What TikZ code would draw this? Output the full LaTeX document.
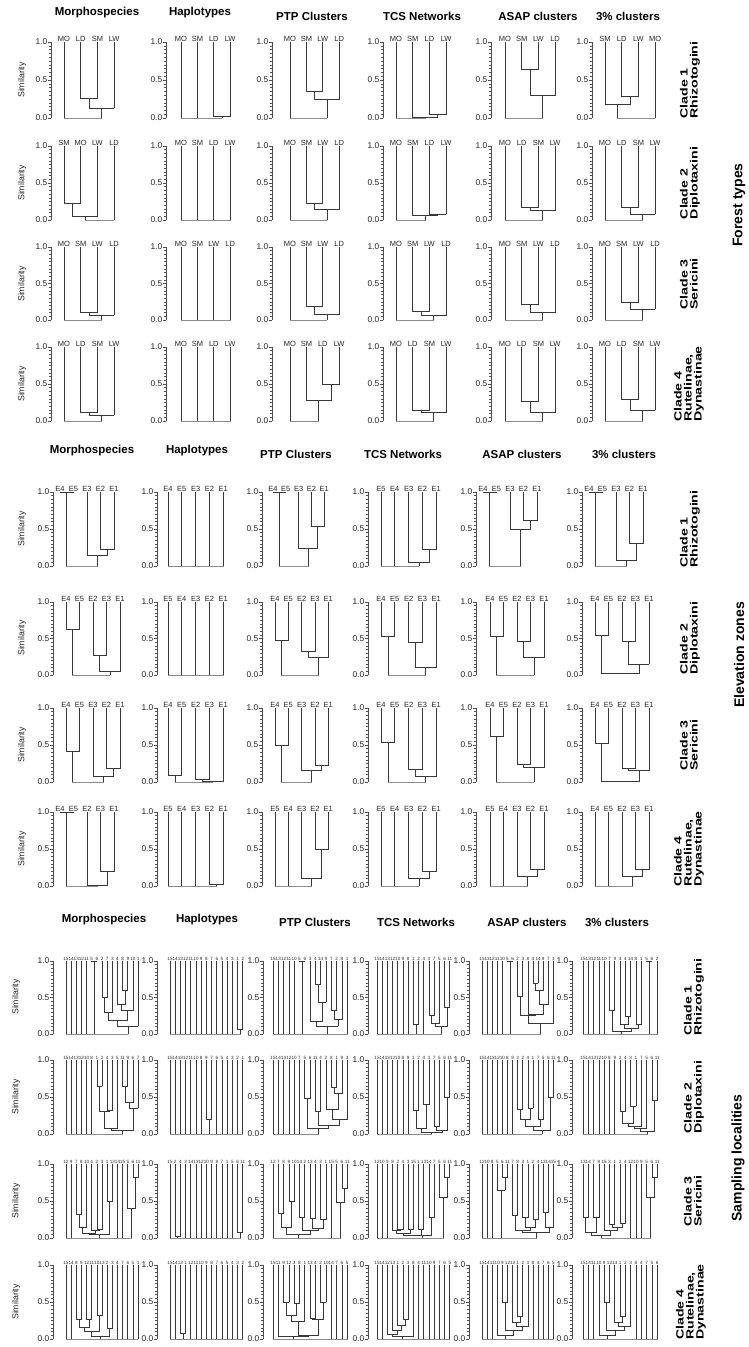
\documentclass[tikz,border=0pt]{standalone}
\usepackage{fontspec}
\usepackage{graphicx}
\setmainfont{Liberation Sans}
% join two clusters #1,#2 at height #3 -> new cluster #4
\newcommand\J[4]{%
  \edef\xa{\csname DX#1\endcsname}\edef\ha{\csname DH#1\endcsname}%
  \edef\xb{\csname DX#2\endcsname}\edef\hb{\csname DH#2\endcsname}%
  \ifdim #3pt=0pt \tikzset{hz/.style={lnk0}}\else\tikzset{hz/.style={lnk}}\fi
  \draw[hz] (\xa,#3) -- (\xb,#3);
  \draw[lnk] (\xa,\ha) -- (\xa,#3) (\xb,\hb) -- (\xb,#3);
  \pgfmathsetmacro\tmp{(\xa+\xb)/2}%
  \expandafter\xdef\csname DX#4\endcsname{\tmp}%
  \expandafter\xdef\csname DH#4\endcsname{#3}}
% chain of joins at one height
\newcommand\R[2]{\gdef\prv{}\foreach \n in {#2}{\ifx\prv\empty\xdef\prv{\n}\else\J{\prv}{\n}{#1}{z\n}\xdef\prv{z\n}\fi}}
% panel: axis x, y(1.0), y(0.0), leaf offset, leaf spacing, labels, tree
\newcommand\pnl[7]{%
  \pgfmathsetmacro\hh{#3-#2}%
  \begin{scope}[shift={(#1,#3)},y={(0pt,\hh pt)}]
    \draw[ax] (0,0) -- (0,1);
    \foreach \t in {0,1,...,20} \draw[ax] (0,\t/20) -- (-1.8,\t/20);
    \foreach \t/\s in {0/0.0,0.5/0.5,1/1.0} {\draw[ax] (0,\t) -- (-3,\t); \node[albl] at (-3.6,\t) {\s};}
    \foreach \l [count=\i] in {#6} {%
      \pgfmathsetmacro\xx{#4+(\i-1)*#5}%
      \expandafter\xdef\csname DX\i\endcsname{\xx}%
      \expandafter\xdef\csname DH\i\endcsname{1}%
      \node[lbl] at (\xx,1) {\l};}
    #7
  \end{scope}}
\newcommand\rl[3]{\node[rotate=90] at (#1,#2) {\scalebox{1.35}[1]{\bfseries\fontsize{10.5}{10}\selectfont\def\arraystretch{0.82}\begin{tabular}{@{}l@{}}#3\end{tabular}}};}
\begin{document}
\begin{tikzpicture}[x=1pt,y=-1pt,
 lnk/.style={draw=black!78,line width=0.75pt,line cap=rect},
 lnk0/.style={draw=black!45,line width=0.75pt,line cap=rect},
 ax/.style={draw=black!70,line width=0.5pt},
 albl/.style={anchor=east,inner sep=0pt,font=\fontsize{8.4}{8.4}\selectfont,text=black!85},
 lbl/.style={anchor=south,inner sep=0.7pt,font=\fontsize{7.5}{7.5}\selectfont,text=black!85},
 hdr/.style={font=\bfseries\fontsize{11.5}{12}\selectfont},
 sim/.style={rotate=90,font=\fontsize{8.8}{9}\selectfont,text=black!85},
 secl/.style={rotate=90,font=\bfseries\fontsize{14}{14}\selectfont}]
\fill[white] (0,0) rectangle (749,1347);
\useasboundingbox (0,0) rectangle (749,1347);

% ================= SECTION 1: Forest types =================
\node[hdr] (h11) at (97,13) {Morphospecies};
\node[hdr] (h12) at (200,13) {Haplotypes};
\node[hdr] (h13) at (312,16) {PTP Clusters};
\node[hdr] (h14) at (422,16) {TCS Networks};
\node[hdr] (h15) at (538,16) {ASAP clusters};
\node[hdr] (h16) at (628,16) {3\% clusters};
\foreach \yc in {80,183,284,384} \node[sim] at (22,\yc) {Similarity};
% row 1
\pnl{51}{42}{118}{13}{16.7}{MO,LD,SM,LW}{\J23{.26}a \J a4{.13}b \J1b0c}
\pnl{166}{42}{118}{15}{16.4}{MO,SM,LD,LW}{\J34{.02}a \R0{1,2,a}}
\pnl{272}{42}{118}{18}{16.4}{MO,SM,LW,LD}{\J23{.35}a \J a4{.24}b \J1b0c}
\pnl{383}{42}{118}{13}{16.7}{MO,SM,LD,LW}{\J34{.05}a \J2a{.01}b \J1b0c}
\pnl{491}{42}{118}{14}{16.7}{MO,SM,LW,LD}{\J23{.64}a \J a4{.3}b \J1b0c}
\pnl{592}{42}{118}{13}{16.7}{SM,LD,LW,MO}{\J23{.28}a \J1a{.18}b \J b4{0}c}
% row 2
\pnl{51}{146}{220}{13}{16.7}{SM,MO,LW,LD}{\J12{.22}a \J a3{.05}b \J b4{0}c}
\pnl{166}{146}{220}{15}{16.4}{MO,SM,LD,LW}{\R0{1,2,3,4}}
\pnl{272}{146}{220}{18}{16.4}{MO,SM,LW,LD}{\J23{.22}a \J a4{.14}b \J1b0c}
\pnl{383}{146}{220}{13}{16.7}{MO,SM,LD,LW}{\J34{.08}a \J2a{.06}b \J1b0c}
\pnl{491}{146}{220}{14}{16.7}{MO,LD,SM,LW}{\J23{.17}a \J a4{.13}b \J1b0c}
\pnl{592}{146}{220}{13}{16.7}{MO,LD,SM,LW}{\J23{.17}a \J a4{.08}b \J1b0c}
% row 3
\pnl{51}{247}{320}{13}{16.7}{MO,SM,LW,LD}{\J23{.1}a \J a4{.07}b \J1b0c}
\pnl{166}{247}{320}{15}{16.4}{MO,SM,LW,LD}{\R0{1,2,3,4}}
\pnl{272}{247}{320}{18}{16.4}{MO,SM,LW,LD}{\J23{.18}a \J a4{.08}b \J1b0c}
\pnl{383}{247}{320}{13}{16.7}{MO,SM,LW,LD}{\J23{.12}a \J a4{.06}b \J1b0c}
\pnl{491}{247}{320}{14}{16.7}{MO,SM,LW,LD}{\J23{.22}a \J a4{.1}b \J1b0c}
\pnl{592}{247}{320}{13}{16.7}{MO,SM,LW,LD}{\J23{.24}a \J a4{.15}b \J1b0c}
% row 4
\pnl{51}{347}{421}{13}{16.7}{MO,LD,SM,LW}{\J23{.11}a \J a4{.08}b \J1b0c}
\pnl{166}{347}{421}{15}{16.4}{MO,SM,LD,LW}{\R0{1,2,3,4}}
\pnl{272}{347}{421}{18}{16.4}{MO,SM,LD,LW}{\J34{.5}a \J2a{.28}b \J1b0c}
\pnl{383}{347}{421}{13}{16.7}{MO,LD,SM,LW}{\J23{.15}a \J a4{.12}b \J1b0c}
\pnl{491}{347}{421}{14}{16.7}{MO,LD,SM,LW}{\J23{.27}a \J a4{.12}b \J1b0c}
\pnl{592}{347}{421}{13}{16.7}{MO,LD,SM,LW}{\J23{.29}a \J a4{.15}b \J1b0c}
\rl{690}{80}{Clade 1\\Rhizotogini}
\rl{690}{183}{Clade 2\\Diplotaxini}
\rl{690}{284}{Clade 3\\Sericini}
\rl{689}{384}{Clade 4\\Rutelinae,\\Dynastinae}
\node[secl] (s1) at (739,205) {Forest types};

% ================= SECTION 2: Elevation zones =================
\node[hdr] (h21) at (92,451) {Morphospecies};
\node[hdr] (h22) at (197,451) {Haplotypes};
\node[hdr] (h23) at (296,454) {PTP Clusters};
\node[hdr] (h24) at (403,454) {TCS Networks};
\node[hdr] (h25) at (522,454) {ASAP clusters};
\node[hdr] (h26) at (624,454) {3\% clusters};
\foreach \yc in {529,638,745,849} \node[sim] at (22,\yc) {Similarity};
% row 1
\pnl{53}{492}{566}{7}{13.5}{E4,E5,E3,E2,E1}{\J12{1}a \J45{.22}b \J3b{.14}c \J ac0d}
\pnl{157}{492}{566}{11}{13.8}{E4,E5,E3,E2,E1}{\R0{1,2,3,4,5}}
\pnl{262}{492}{566}{11}{12.8}{E4,E5,E3,E2,E1}{\J12{1}a \J45{.54}b \J3b{.24}c \J ac0d}
\pnl{368}{492}{566}{13}{13.8}{E5,E4,E3,E2,E1}{\J45{.23}a \J3a{.05}b \R0{1,2,b}}
\pnl{476}{492}{566}{7}{13.5}{E4,E5,E3,E2,E1}{\J12{1}a \J45{.62}b \J3b{.5}c \J ac0d}
\pnl{582}{492}{566}{7}{13.5}{E4,E5,E3,E2,E1}{\J12{1}a \J45{.3}b \J3b{.08}c \J ac0d}
% row 2
\pnl{53}{602}{675}{13}{13.5}{E4,E5,E2,E3,E1}{\J12{.63}a \J34{.27}b \J b5{.05}c \J ac0d}
\pnl{157}{602}{675}{11}{13.8}{E5,E4,E3,E2,E1}{\R0{1,2,3,4,5}}
\pnl{262}{602}{675}{13}{13.3}{E4,E5,E2,E3,E1}{\J12{.48}a \J34{.32}b \J b5{.24}c \J ac0d}
\pnl{368}{602}{675}{13}{13.8}{E4,E5,E2,E3,E1}{\J12{.53}a \J34{.45}b \J b5{.1}c \J ac0d}
\pnl{476}{602}{675}{14}{13.5}{E4,E5,E2,E3,E1}{\J12{.53}a \J34{.46}b \J b5{.24}c \J ac0d}
\pnl{582}{602}{675}{13}{13.5}{E4,E5,E2,E3,E1}{\J12{.54}a \J34{.46}b \J b5{.15}c \J ac{.02}d}
% row 3
\pnl{53}{708}{782}{13}{13.5}{E4,E5,E3,E2,E1}{\J12{.41}a \J45{.18}b \J3b{.07}c \J ac0d}
\pnl{157}{708}{782}{11}{13.8}{E4,E5,E2,E3,E1}{\J12{.09}a \J34{.03}b \J b5{.01}c \J ac0d}
\pnl{262}{708}{782}{13}{13.3}{E4,E5,E3,E2,E1}{\J12{.5}a \J45{.23}b \J3b{.16}c \J ac0d}
\pnl{368}{708}{782}{13}{13.8}{E4,E5,E2,E3,E1}{\J12{.53}a \J34{.17}b \J b5{.07}c \J ac0d}
\pnl{476}{708}{782}{14}{13.5}{E4,E5,E2,E3,E1}{\J12{.62}a \J34{.24}b \J b5{.2}c \J ac0d}
\pnl{582}{708}{782}{13}{13.5}{E4,E5,E2,E3,E1}{\J12{.52}a \J34{.19}b \J b5{.16}c \J ac{.01}d}
% row 4
\pnl{53}{812}{886}{7}{13.5}{E4,E5,E2,E3,E1}{\J12{1}a \J45{.2}b \J3b{.01}c \J ac0d}
\pnl{157}{812}{886}{11}{13.8}{E5,E4,E3,E2,E1}{\J45{.02}a \R0{1,2,3,a}}
\pnl{262}{812}{886}{13}{13.3}{E5,E4,E3,E2,E1}{\J45{.49}a \J3a{.1}b \R0{1,2,b}}
\pnl{368}{812}{886}{13}{13.8}{E5,E4,E3,E2,E1}{\J45{.2}a \J3a{.1}b \R0{1,2,b}}
\pnl{476}{812}{886}{14}{13.5}{E5,E4,E3,E2,E1}{\J45{.22}a \J3a{.13}b \R0{1,2,b}}
\pnl{582}{812}{886}{13}{13.5}{E4,E5,E2,E3,E1}{\J45{.22}a \J3a{.13}b \R0{1,2,b}}
\rl{690}{529}{Clade 1\\Rhizotogini}
\rl{690}{638}{Clade 2\\Diplotaxini}
\rl{690}{745}{Clade 3\\Sericini}
\rl{689}{849}{Clade 4\\Rutelinae,\\Dynastinae}
\node[secl] (s2) at (739,655) {Elevation zones};

% ================= SECTION 3: Sampling localities =================
\tikzset{lbl/.style={anchor=south,inner sep=0.6pt,font=\fontsize{4.6}{4.6}\selectfont,text=black!85}}
\node[hdr] (h31) at (104,920) {Morphospecies};
\node[hdr] (h32) at (207,920) {Haplotypes};
\node[hdr] (h33) at (315,922) {PTP Clusters};
\node[hdr] (h34) at (416,922) {TCS Networks};
\node[hdr] (h35) at (527,922) {ASAP clusters};
\node[hdr] (h36) at (617,922) {3\% clusters};
\foreach \yc in {997,1097,1201,1302} \node[sim] at (16,\yc) {Similarity};
% row 1
\pnl{53}{961}{1034}{13}{5.15}{15,14,13,12,11,5,6,2,7,3,4,8,9,10,1}{\J67{1}a \J89{.5}b \J b{10}{.3}c \J{12}{13}{.6}d \J{11}d{.4}e \J e{14}{.32}f \J cf{.19}g \J g{15}{.11}h \R0{1,2,3,4,5,a,h}}
\pnl{157}{961}{1034}{13}{5.2}{15,14,13,12,11,10,9,8,7,6,5,4,3,1,2}{\J{14}{15}{.07}a \R0{1,2,3,4,5,6,7,8,9,10,11,12,13,a}}
\pnl{263}{961}{1034}{10}{5.3}{15,13,12,11,10,5,6,3,4,14,9,7,2,8,1}{\J67{1}a \J9{10}{.68}b \J b{11}{.44}c \J{12}{13}{.33}d \J d{14}{.2}e \J8c{.17}f \J fe{.11}g \R0{1,2,3,4,5,a,g,15}}
\pnl{368}{961}{1034}{9}{5.2}{15,14,13,12,10,9,8,1,2,4,3,7,5,6,11}{\J89{.13}a \J{11}{12}{.26}b \J b{13}{.15}c \J{14}{15}{.36}d \J cd{.1}e \R0{1,2,3,4,5,6,7,a,10,e}}
\pnl{469}{961}{1034}{13}{5.1}{15,13,12,11,10,5,6,2,3,8,4,14,9,7,1}{\J67{1}a \J89{.52}b \J{11}{12}{.7}c \J c{13}{.6}d \J d{14}{.4}e \J{10}e{.27}f \J bf{.26}g \J g{15}{.14}h \R0{1,2,3,4,5,a,h}}
\pnl{572}{961}{1034}{11}{5.3}{15,13,12,11,10,7,9,3,4,14,8,1,5,6,2}{\J67{.33}a \J9{10}{.24}b \J8b{.13}c \J{11}{12}{.13}d \J cd{.08}e \J ae{.04}f \J{13}{14}{1}g \R0{1,2,3,4,5,f,g,15}}
% row 2
\pnl{53}{1060}{1134}{13}{5.15}{15,14,13,12,10,8,1,2,4,3,5,11,9,6,7}{\J78{.65}a \J9{10}{.32}b \J ab{.3}c \J c{11}{.07}d \J{12}{13}{.65}e \J e{14}{.43}f \J f{15}{.35}g \J dg{.05}h \R0{1,2,3,4,5,6,h}}
\pnl{157}{1060}{1134}{13}{5.2}{15,14,13,12,11,10,8,9,7,6,5,4,3,2,1}{\J89{.2}a \R0{1,2,3,4,5,6,7,a,10,11,12,13,14,15}}
\pnl{263}{1060}{1134}{10}{5.3}{15,14,13,12,10,7,5,6,11,4,2,8,1,9,3}{\J78{.48}a \J9{10}{.3}b \J{12}{13}{.63}c \J c{14}{.55}d \J{11}d{.33}e \J e{15}{.2}f \J bf{.12}g \J ag{.08}h \R0{1,2,3,4,5,6,h}}
\pnl{368}{1060}{1134}{9}{5.2}{15,14,13,12,10,8,9,1,2,4,3,7,5,6,11}{\J89{.32}a \J{10}{11}{.4}b \J ab{.08}c \J{12}{13}{.1}d \J{14}{15}{.5}e \J de{.05}f \J cf{.02}g \R0{1,2,3,4,5,6,7,g}}
\pnl{469}{1060}{1134}{13}{5.1}{15,14,13,12,10,8,9,3,2,4,1,7,5,6,11}{\J89{.33}a \J{10}{11}{.35}b \J ab{.2}c \J{12}{13}{.2}d \J cd{.1}e \J{14}{15}{.5}f \J ef{.05}g \R0{1,2,3,4,5,6,7,g}}
\pnl{572}{1060}{1134}{11}{5.3}{15,14,13,12,10,8,9,2,4,3,1,7,5,6,11}{\J89{.3}a \J{10}{11}{.38}b \J ab{.15}c \J c{12}{.1}d \J d{13}{.07}e \J{14}{15}{.45}f \J ef{.04}g \R0{1,2,3,4,5,6,7,g}}
% row 3
\pnl{53}{1164}{1238}{13}{5.15}{12,9,7,8,10,4,2,3,1,13,14,15,5,6,11}{\J34{.32}a \J5a{.15}b \J78{.12}c \J6c{.11}d \J bd{.06}e \J9{10}{.5}f \J ef{.05}g \J{14}{15}{.82}h \J{13}h{.4}i \R0{1,2,g,11,12,i}}
\pnl{157}{1164}{1238}{13}{5.2}{15,2,4,3,14,13,12,10,9,8,7,1,5,6,11}{\J23{.02}a \J{14}{15}{.08}b \R0{1,a,4,5,6,7,8,9,10,11,12,13,b}}
\pnl{263}{1164}{1238}{10}{5.3}{12,7,8,9,10,14,2,13,4,3,1,15,5,6,11}{\J23{.33}a \J45{.5}b \J ab{.15}c \J67{.28}d \J89{.27}e \J{10}{11}{.25}f \J ef{.13}g \J dg{.1}h \J ch{.05}i \J{14}{15}{.67}j \J{13}j{.48}k \R0{1,i,12,k}}
\pnl{368}{1164}{1238}{9}{5.2}{12,10,9,8,2,4,3,15,1,13,14,7,5,6,11}{\J56{.12}a \J4a{.1}b \J78{.12}c \J bc{.06}d \J9{10}{.12}e \J de{.04}f \J{11}{12}{.28}g \J fg{.03}h \J{14}{15}{.82}i \J{13}i{.55}j \R0{1,2,3,h,j}}
\pnl{469}{1164}{1238}{13}{5.1}{12,10,9,5,6,11,7,8,3,1,2,4,13,14,15}{\J56{.82}a \J4a{.65}b \J78{.3}c \J9{10}{.28}d \J{11}{12}{.25}e \J de{.14}f \J cf{.1}g \J{13}{14}{.35}h \J h{15}{.15}i \J gi{.07}j \R0{1,2,3,b,j}}
\pnl{572}{1164}{1238}{11}{5.3}{13,14,7,8,15,3,1,2,4,12,10,9,5,6,11}{\J{14}{15}{.82}a \J{13}a{.55}b \J12{.28}c \J34{.28}d \J cd{.08}e \J67{.18}f \J89{.2}g \J fg{.14}h \J5h{.1}i \J ei{.04}j \R0{j,10,11,12,b}}
% row 4
\pnl{53}{1265}{1339}{13}{5.15}{15,14,8,9,12,11,10,13,2,3,4,7,6,5,1}{\J34{.27}a \J56{.27}b \J ab{.16}c \J78{.32}d \J cd{.1}e \J9{10}{.15}f \J ef{.04}g \R0{1,2,g,11,12,13,14,15}}
\pnl{157}{1265}{1339}{13}{5.2}{15,14,13,1,12,11,10,9,8,7,6,5,4,3,2}{\J34{.07}a \R0{1,2,a,5,6,7,8,9,10,11,12,13,14,15}}
\pnl{263}{1265}{1339}{10}{5.3}{15,11,9,12,3,8,1,13,4,2,10,14,7,6,5}{\J34{.5}a \J56{.48}b \J ab{.32}c \J c7{.24}d \J89{.28}e \J{10}{11}{.5}f \J ef{.27}g \J dg{.05}h \J2h{.03}i \R0{1,i,12,13,14,15}}
\pnl{368}{1265}{1339}{9}{5.2}{15,14,12,13,1,2,3,8,4,11,10,9,7,6,5}{\J67{.27}a \J5a{.18}b \J4b{.12}c \J3c{.06}d \J d8{.03}e \R0{1,2,e,9,10,11,12,13,14,15}}
\pnl{469}{1265}{1339}{13}{5.1}{15,14,11,10,9,12,13,1,2,3,8,4,7,6,5}{\J56{.5}a \J89{.3}b \J7b{.22}c \J c{10}{.17}d \J ad{.12}e \J4e{.05}f \R0{1,2,3,f,11,12,13,14,15}}
\pnl{572}{1265}{1339}{11}{5.3}{15,14,11,10,9,12,13,1,2,3,8,4,7,5,6}{\J56{.5}a \J89{.3}b \J7b{.22}c \J c{10}{.17}d \J ad{.12}e \J4e{.05}f \R0{1,2,3,f,11,12,13,14,15}}
\rl{694}{997}{Clade 1\\Rhizotogini}
\rl{694}{1097}{Clade 2\\Diplotaxini}
\rl{694}{1201}{Clade 3\\Sericini}
\rl{691}{1302}{Clade 4\\Rutelinae,\\Dynastinae}
\node[secl] (s3) at (738,1158) {Sampling localities};
\end{tikzpicture}
\end{document}
